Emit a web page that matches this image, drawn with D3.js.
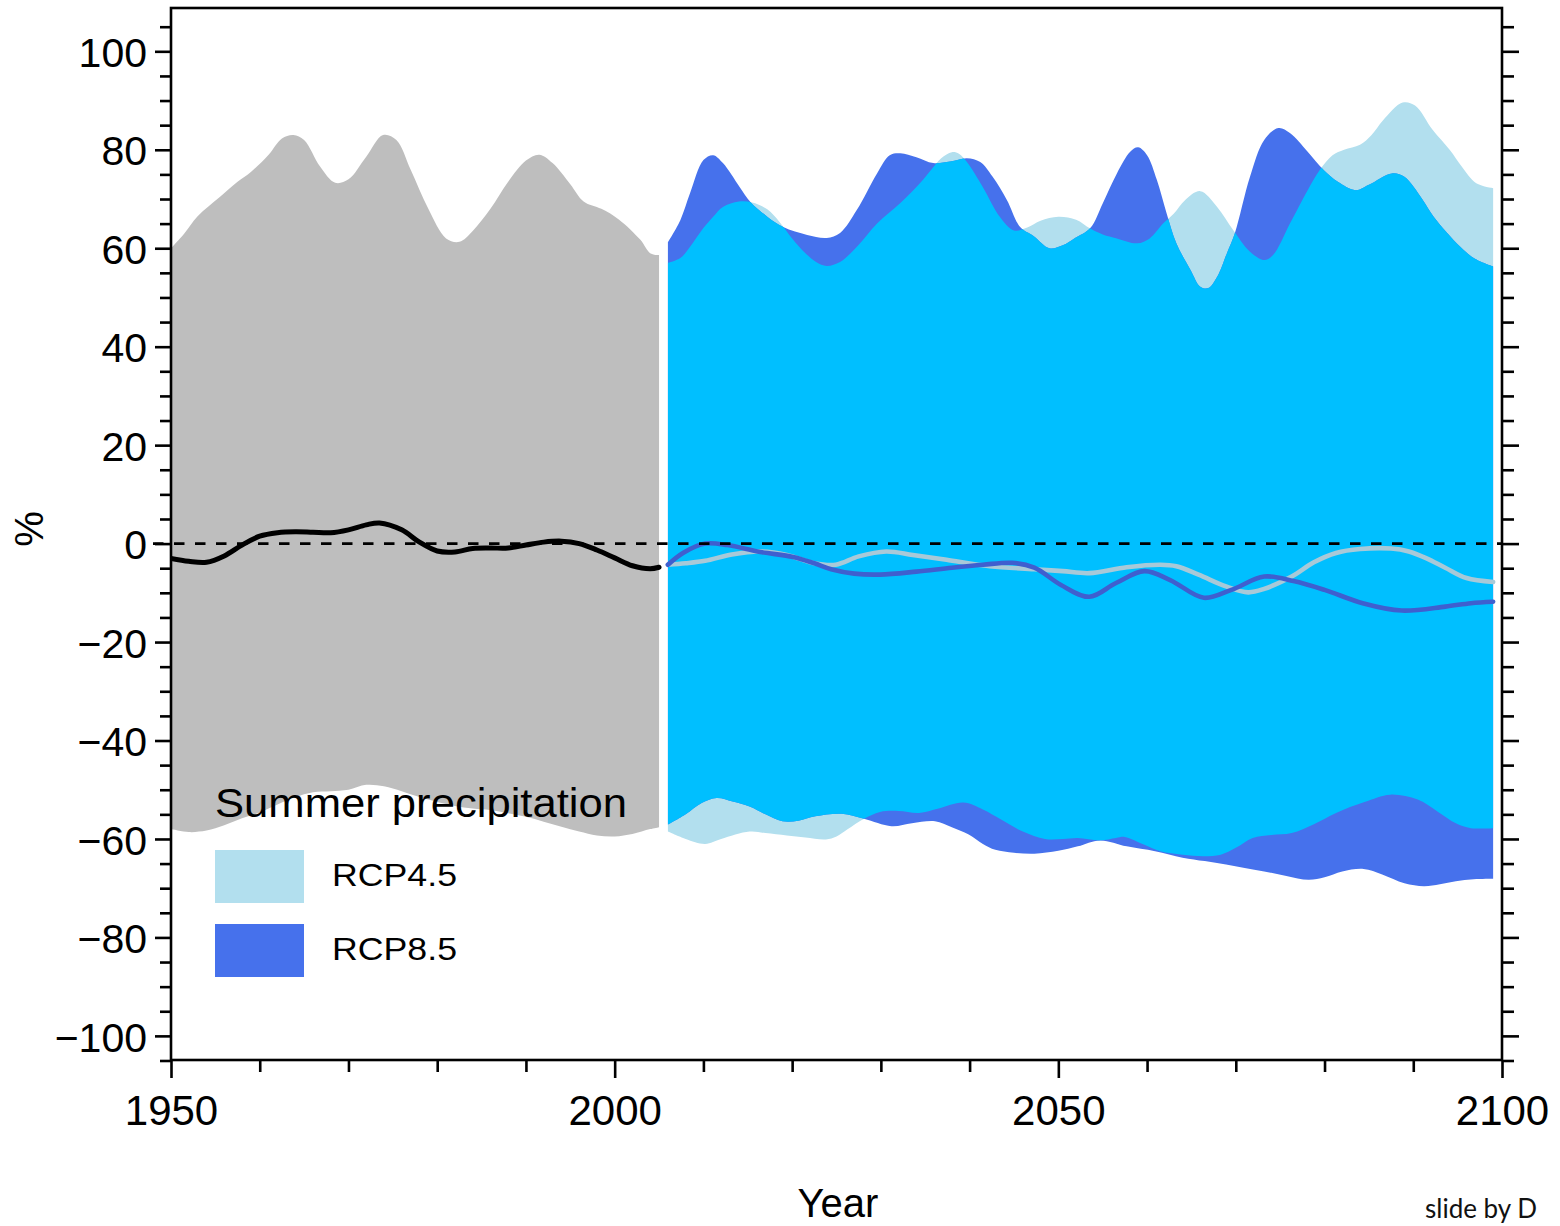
<!DOCTYPE html>
<html>
<head>
<meta charset="utf-8">
<script src="https://cdn.jsdelivr.net/npm/d3@7"></script>
<style>
  html, body { margin: 0; padding: 0; background: #fff; }
  svg { display: block; }
</style>
</head>
<body>
<script>
// Summer precipitation change (%) — historical and scenario model spread, with ensemble means.

// Historical model range (max / min) and ensemble mean, 1950–2005
const histMax = [[1950,60],[1951.5,63],[1953,66.5],[1955.5,70.4],[1957.5,73.5],[1959,75.5],[1961,79],[1962.5,82.3],[1963.8,83],[1965,82],[1966.8,76.6],[1968.5,73.3],[1970,74],[1972,78.6],[1973.9,83],[1975.4,82],[1977,76],[1979,68],[1981,62],[1982.5,61.3],[1984,63.5],[1986,68],[1988,73.5],[1990,77.8],[1991.5,79],[1993,77.3],[1995,73],[1996.5,69.5],[1998.5,68],[2000.5,65.8],[2002.9,61.7],[2004,59],[2005,58.6]];
const histMin = [[1950,-58],[1952,-58.6],[1954,-58.3],[1956,-57.2],[1958,-55.8],[1960,-54.6],[1962,-53],[1964,-51.5],[1966,-50.5],[1968,-50.3],[1970,-50],[1972,-49],[1974,-49.3],[1976,-50.3],[1978,-51.5],[1980,-52.5],[1982,-53.3],[1984,-53.8],[1986,-54.1],[1988,-54.8],[1990,-55.5],[1992,-56.5],[1994,-57.5],[1996,-58.5],[1998,-59.3],[2000,-59.5],[2002,-59],[2004,-58],[2005,-57.6]];
const histMean = [[1950,-3],[1952,-3.6],[1954,-3.8],[1956,-2.5],[1958,-0.3],[1960,1.5],[1962,2.2],[1964,2.4],[1966,2.3],[1968,2.2],[1970,2.8],[1972,3.8],[1973.5,4.2],[1976,2.8],[1978,0.3],[1980,-1.5],[1982,-1.7],[1984,-1.0],[1986,-0.9],[1988,-0.9],[1990,-0.3],[1992,0.3],[1994,0.5],[1996,0],[1998,-1.3],[2000,-2.9],[2002,-4.5],[2004,-5.1],[2005,-4.8]];

// RCP4.5 model range and mean, 2006–2099
const rcp45Max = [[2006,57],[2007.4,58],[2008.5,60.3],[2010,64.1],[2011.1,66.4],[2012.2,68.4],[2014,69.5],[2015.5,69.3],[2017.2,67.9],[2018.6,65.3],[2020,62],[2021.5,59],[2022.7,57.2],[2023.9,56.4],[2025.4,57.2],[2027.3,60.3],[2029.6,65.1],[2032.2,69.2],[2034.4,73.2],[2035.7,76],[2036.8,78.3],[2038,79.5],[2038.8,79.2],[2039.7,77.5],[2041.5,72.4],[2043.4,66.4],[2045,63.6],[2046.5,64.2],[2048,65.6],[2050,66.4],[2052,65.8],[2053.6,64],[2055,62.8],[2056.6,62],[2058.9,61],[2060.3,62],[2061.8,65],[2063,67],[2064.3,69.8],[2066,71.6],[2067.9,68.4],[2069.7,63.7],[2071.6,59.3],[2073.2,57.6],[2074.2,58.6],[2076.1,65],[2078.1,71.8],[2079.5,76],[2080.9,78.9],[2082.2,80],[2084,81],[2085.3,83],[2086.6,86],[2088.8,89.6],[2090.2,89],[2092.2,84],[2094.1,80],[2095.5,76.5],[2097.1,73.2],[2099,72.2]];
const rcp45Min = [[2006,-58.5],[2008,-60],[2010.2,-61],[2012,-60],[2015.2,-58.5],[2017,-58.8],[2019.4,-59.3],[2021.5,-59.7],[2023.8,-60.1],[2025,-59.5],[2026.2,-58.1],[2028.1,-55.9],[2029.9,-54.5],[2032,-54.3],[2034.3,-54.7],[2036.5,-53.8],[2039.3,-52.6],[2041.5,-54],[2043.6,-56.1],[2046,-58.5],[2048.5,-60],[2050.5,-60],[2052.2,-59.8],[2054.7,-60.3],[2056.5,-59.8],[2057.5,-59.6],[2059.7,-61.2],[2061.5,-62.5],[2064,-63.2],[2066.4,-63.5],[2068.3,-63.2],[2070,-61.8],[2071.9,-59.8],[2074,-59.2],[2076.3,-58.8],[2078.8,-57],[2081.3,-54.7],[2084.5,-52.5],[2087.4,-51],[2090.5,-52],[2092.8,-54.5],[2094.8,-56.8],[2096.5,-57.8],[2099,-57.8]];
const rcp45Mean = [[2006,-4.3],[2008,-4],[2010.2,-3.5],[2013.2,-2.2],[2016.4,-1.6],[2019.4,-2.3],[2022.5,-4],[2024.9,-4.3],[2027.5,-2.6],[2030.6,-1.6],[2033.6,-2.3],[2037.4,-3.3],[2042.3,-4.6],[2047.3,-5.2],[2050.5,-5.6],[2053.5,-6],[2057.7,-4.8],[2061.5,-4.3],[2063.3,-4.6],[2065.8,-6.3],[2068.9,-8.7],[2071.4,-9.9],[2073.2,-9.2],[2076.3,-6.7],[2078.8,-3.8],[2081.3,-1.9],[2084,-1.1],[2087.5,-1],[2089.5,-1.6],[2091.5,-3],[2093.6,-4.9],[2096,-7],[2099,-7.8]];

// RCP8.5 model range and mean, 2006–2099
const rcp85Max = [[2006,61.2],[2007.4,65.7],[2008.5,71.2],[2010,77.9],[2011.1,78.9],[2012.2,77.3],[2014.1,72.4],[2015.3,69.4],[2017.2,66.4],[2019,64.3],[2021.7,62.7],[2023.9,62.1],[2025.4,63.1],[2027.3,67.8],[2029.6,75.3],[2031,78.9],[2032.2,79.3],[2034,78.5],[2035.9,77.3],[2037.8,77.6],[2039.7,78.3],[2041.2,77.5],[2042.6,74.5],[2044.2,69.8],[2045.7,64.3],[2047.2,62.5],[2049,60],[2050.5,60.6],[2051.8,62],[2053.6,64.1],[2055,69.1],[2056.6,75.2],[2058.1,79.6],[2059,80.5],[2060,78.9],[2061.1,73.9],[2062.2,67.1],[2063.3,61],[2064.9,55.6],[2066,52.2],[2066.9,51.9],[2067.9,54.2],[2069,59],[2069.9,63.1],[2071.6,74.5],[2073.2,82],[2074.8,84.4],[2076.1,83.4],[2078.1,79.6],[2079.9,75.9],[2081.5,73.5],[2083.5,71.8],[2085,72.9],[2087.6,75.2],[2089,74.5],[2091,70],[2092.3,66.4],[2095.3,60.3],[2097,57.8],[2099,56.3]];
const rcp85Min = [[2006,-57.1],[2008,-55],[2009.8,-52.7],[2011.5,-51.7],[2013.3,-52.4],[2015.2,-53.4],[2017,-55],[2018.9,-56.4],[2020.7,-56.3],[2022.6,-55.4],[2025.6,-54.9],[2028.1,-55.9],[2031.2,-57.4],[2033.5,-56.8],[2036.1,-56.4],[2038,-57.6],[2039.9,-59.1],[2041.5,-61],[2042.9,-62.2],[2045,-62.8],[2047.3,-63],[2050,-62.4],[2052.2,-61.5],[2054.7,-60.3],[2057.7,-61.5],[2060.9,-62.5],[2064,-63.8],[2066.5,-64.5],[2068.9,-65.2],[2071,-65.9],[2073.2,-66.6],[2075.7,-67.5],[2078.2,-68.3],[2080,-67.8],[2082,-66.6],[2084.4,-66.1],[2086.5,-67.2],[2089,-69],[2091.2,-69.6],[2093,-69.2],[2094.8,-68.6],[2096.8,-68.2],[2099,-68.1]];
const rcp85Mean = [[2006,-4.3],[2007.7,-1.9],[2010.2,0],[2012.7,-0.3],[2016.4,-1.7],[2020.1,-2.7],[2022.5,-4],[2024.4,-5.2],[2027,-6.1],[2029.9,-6.3],[2034,-5.7],[2038,-4.9],[2041.5,-4.3],[2044.8,-3.9],[2047.3,-4.9],[2050.3,-8.4],[2053.5,-10.8],[2056.5,-8],[2059.7,-5.6],[2062.6,-7.4],[2066.4,-11],[2069.5,-9.4],[2073.2,-6.7],[2076.5,-7.6],[2080,-9.4],[2084.3,-12.1],[2088.7,-13.6],[2093.6,-12.8],[2096.5,-12.1],[2099,-11.8]];

// Axis ticks
const xMajorTicks = [1950, 2000, 2050, 2100];
const xMinorTicks = [1960, 1970, 1980, 1990, 2010, 2020, 2030, 2040, 2060, 2070, 2080, 2090];
const yMajorTicks = [-100, -80, -60, -40, -20, 0, 20, 40, 60, 80, 100];
const yMinorTicks = [-105, -95, -90, -85, -75, -70, -65, -55, -50, -45, -35, -30, -25, -15, -10, -5, 5, 10, 15, 25, 30, 35, 45, 50, 55, 65, 70, 75, 85, 90, 95, 105];

// Legend entries
const legendTitle = "Summer precipitation";
const legendLabels = ["RCP4.5", "RCP8.5"];

const W = 1560, H = 1226;
const plot = { left: 171, right: 1502, top: 8, bottom: 1060 };
const FONT = "'Liberation Sans', Arial, Helvetica, sans-serif";
const colors = {
  hist: "#bebebe",
  rcp45: "#b2dfee",
  rcp85: "#4671ec",
  both: "#00bfff",
  histLine: "#000000",
  rcp45Line: "#a8c9d8",
  rcp85Line: "#3f5fcf"
};

const svg = d3.select("body").append("svg")
  .attr("width", W).attr("height", H)
  .attr("viewBox", `0 0 ${W} ${H}`);

svg.append("rect").attr("width", W).attr("height", H).attr("fill", "#fff");

const x = d3.scaleLinear().domain([1950, 2100]).range([plot.left, plot.right]);
const y = d3.scaleLinear().domain([-104.9, 108.8]).range([plot.bottom, plot.top]);

const curve = d3.curveCatmullRom.alpha(0.5);

// Band between a max series and a min series (same x-extent)
function bandPath(maxS, minS) {
  const top = d3.line().x(d => x(d[0])).y(d => y(d[1])).curve(curve)(maxS);
  const bot = d3.line().x(d => x(d[0])).y(d => y(d[1])).curve(curve)(minS.slice().reverse());
  return top + "L" + bot.slice(1) + "Z";
}
const line = d3.line().x(d => x(d[0])).y(d => y(d[1])).curve(curve);

const defs = svg.append("defs");
defs.append("clipPath").attr("id", "plot-clip")
  .append("rect")
  .attr("x", plot.left).attr("y", plot.top)
  .attr("width", plot.right - plot.left).attr("height", plot.bottom - plot.top);
defs.append("clipPath").attr("id", "rcp85-clip")
  .append("path").attr("d", bandPath(rcp85Max, rcp85Min));

const g = svg.append("g").attr("clip-path", "url(#plot-clip)");

// Model spread
g.append("path").attr("d", bandPath(histMax, histMin)).attr("fill", colors.hist);
g.append("path").attr("d", bandPath(rcp45Max, rcp45Min)).attr("fill", colors.rcp45);
g.append("path").attr("d", bandPath(rcp85Max, rcp85Min)).attr("fill", colors.rcp85);
// Range shared by both scenarios
g.append("path").attr("d", bandPath(rcp45Max, rcp45Min))
  .attr("clip-path", "url(#rcp85-clip)")
  .attr("fill", colors.both);

// Zero reference line
svg.append("line")
  .attr("x1", 153).attr("x2", plot.right)
  .attr("y1", y(0)).attr("y2", y(0))
  .attr("stroke", "#000").attr("stroke-width", 2.6)
  .attr("stroke-dasharray", "10.5,10.5");

// Ensemble means
g.append("path").attr("d", line(histMean)).attr("fill", "none")
  .attr("stroke", colors.histLine).attr("stroke-width", 5).attr("stroke-linecap", "round");
g.append("path").attr("d", line(rcp45Mean)).attr("fill", "none")
  .attr("stroke", colors.rcp45Line).attr("stroke-width", 4.6).attr("stroke-linecap", "round");
g.append("path").attr("d", line(rcp85Mean)).attr("fill", "none")
  .attr("stroke", colors.rcp85Line).attr("stroke-width", 4.6).attr("stroke-linecap", "round");

// Axes
const fmt = d3.format("d");
function styleAxis(sel) {
  sel.select(".domain").remove();
  sel.selectAll("line").attr("stroke", "#000").attr("stroke-width", 2.6);
  sel.selectAll("text").attr("font-family", FONT).attr("font-size", 41).attr("fill", "#000");
}

svg.append("g").attr("transform", `translate(${plot.left},0)`)
  .call(d3.axisLeft(y).tickValues(yMinorTicks).tickSize(11).tickFormat(""))
  .call(styleAxis);
svg.append("g").attr("transform", `translate(${plot.left},0)`)
  .call(d3.axisLeft(y).tickValues(yMajorTicks).tickSize(16).tickPadding(8).tickFormat(fmt))
  .call(styleAxis)
  .call(s => s.selectAll("text").attr("dy", "0.37em"));

svg.append("g").attr("transform", `translate(${plot.right},0)`)
  .call(d3.axisRight(y).tickValues(yMinorTicks).tickSize(12).tickFormat(""))
  .call(styleAxis);
svg.append("g").attr("transform", `translate(${plot.right},0)`)
  .call(d3.axisRight(y).tickValues(yMajorTicks).tickSize(17).tickFormat(""))
  .call(styleAxis);

svg.append("g").attr("transform", `translate(0,${plot.bottom})`)
  .call(d3.axisBottom(x).tickValues(xMinorTicks).tickSize(12).tickFormat(""))
  .call(styleAxis);
svg.append("g").attr("transform", `translate(0,${plot.bottom})`)
  .call(d3.axisBottom(x).tickValues(xMajorTicks).tickSize(18).tickPadding(17).tickFormat(fmt))
  .call(styleAxis)
  .call(s => s.selectAll("text").attr("font-size", 42));

// Frame
svg.append("rect")
  .attr("x", plot.left).attr("y", plot.top)
  .attr("width", plot.right - plot.left).attr("height", plot.bottom - plot.top)
  .attr("fill", "none").attr("stroke", "#000").attr("stroke-width", 2.6);

// Axis titles
svg.append("text")
  .attr("x", 838).attr("y", 1217)
  .attr("text-anchor", "middle")
  .attr("font-family", FONT).attr("font-size", 40)
  .text("Year");
svg.append("text")
  .attr("transform", "translate(43,529) rotate(-90)")
  .attr("text-anchor", "middle")
  .attr("font-family", FONT).attr("font-size", 40)
  .text("%");

// Legend
const legend = svg.append("g");
legend.append("text")
  .attr("x", 215).attr("y", 817)
  .attr("font-family", FONT).attr("font-size", 40)
  .attr("textLength", 412).attr("lengthAdjust", "spacingAndGlyphs")
  .text(legendTitle);
const legendFills = [colors.rcp45, colors.rcp85];
legendLabels.forEach((lab, i) => {
  const y0 = 850 + i * 74;
  legend.append("rect")
    .attr("x", 215).attr("y", y0).attr("width", 89).attr("height", 53)
    .attr("fill", legendFills[i]);
  legend.append("text")
    .attr("x", 332).attr("y", y0 + 36)
    .attr("font-family", FONT).attr("font-size", 32)
    .attr("textLength", 125).attr("lengthAdjust", "spacingAndGlyphs")
    .text(lab);
});

// Credit line at the bottom edge
svg.append("text")
  .attr("x", 1425).attr("y", 1218)
  .attr("font-family", "Lato, 'Open Sans', sans-serif").attr("font-size", 26)
  .attr("fill", "#111")
  .text("slide by D");
</script>
</body>
</html>
